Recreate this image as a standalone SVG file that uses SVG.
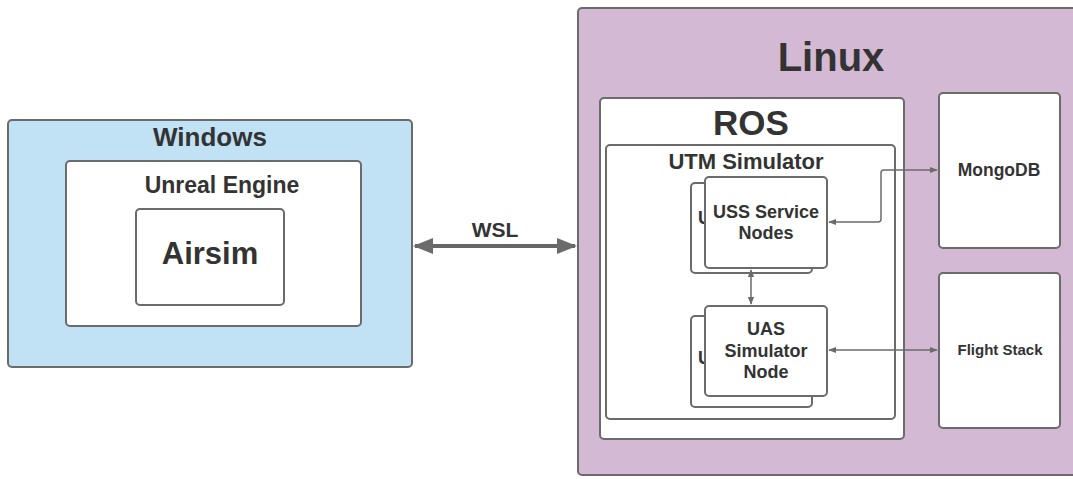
<svg xmlns="http://www.w3.org/2000/svg" width="1073" height="479" viewBox="0 0 1073 479">
<style>
.box{fill:#fff;stroke:#6b6b6b;stroke-width:2}
.t{font-family:"Liberation Sans",Arial,sans-serif;font-weight:bold;fill:#333;text-anchor:middle}
.c{fill:none;stroke:#6b6b6b;stroke-width:1.5}
</style>
<defs>
<marker id="a" viewBox="0 0 10 10" refX="9" refY="5" markerWidth="8" markerHeight="8" markerUnits="userSpaceOnUse" orient="auto-start-reverse"><path d="M0,1 L10,5 L0,9 Z" fill="#6b6b6b"/></marker>
<marker id="b" viewBox="0 0 10 10" refX="9" refY="5" markerWidth="5" markerHeight="5" orient="auto-start-reverse"><path d="M0,1 L10,5 L0,9 Z" fill="#6b6b6b"/></marker>
</defs>
<rect width="1073" height="479" fill="#fff"/>
<g id="windows">
<rect x="8" y="120" width="404" height="247" rx="4" fill="#c0e2f4" stroke="#6b6b6b" stroke-width="2"/>
<text class="t" x="210" y="146" font-size="26">Windows</text>
</g>
<g id="unreal">
<rect class="box" x="66" y="161" width="295" height="165" rx="4"/>
<text class="t" x="222" y="193" font-size="23">Unreal Engine</text>
</g>
<g id="airsim">
<rect class="box" x="136" y="209" width="148" height="96" rx="4"/>
<text class="t" x="210" y="264" font-size="31">Airsim</text>
</g>
<g id="linux">
<rect x="578" y="8" width="500" height="467" rx="4" fill="#d4b9d4" stroke="#6b6b6b" stroke-width="2"/>
<text class="t" x="831" y="71" font-size="40">Linux</text>
</g>
<g id="ros">
<rect class="box" x="600" y="98" width="304" height="341" rx="4"/>
<text class="t" x="751" y="135" font-size="35">ROS</text>
</g>
<g id="utm">
<rect class="box" x="606" y="145" width="289" height="274" rx="4"/>
<text class="t" x="746" y="169" font-size="22">UTM Simulator</text>
</g>
<g id="uss-back">
<rect class="box" x="691" y="183" width="121" height="90" rx="4"/>
<text class="t" x="698" y="224" font-size="18" text-anchor="start" style="text-anchor:start">U</text>
</g>
<g id="uss">
<rect class="box" x="705" y="177" width="122" height="91" rx="4"/>
<text class="t" x="766" y="218" font-size="18">USS Service</text>
<text class="t" x="766" y="239" font-size="18">Nodes</text>
</g>
<g id="uas-back">
<rect class="box" x="691" y="316" width="121" height="91" rx="4"/>
<text class="t" x="698" y="364" font-size="18" style="text-anchor:start">U</text>
</g>
<g id="uas">
<rect class="box" x="705" y="306" width="122" height="90" rx="4"/>
<text class="t" x="766" y="335" font-size="18">UAS</text>
<text class="t" x="766" y="357" font-size="18">Simulator</text>
<text class="t" x="766" y="378" font-size="18">Node</text>
</g>
<g id="mongodb">
<rect class="box" x="939" y="93" width="121" height="155" rx="4"/>
<text class="t" x="999" y="176" font-size="17.5">MongoDB</text>
</g>
<g id="flightstack">
<rect class="box" x="939" y="273" width="121" height="155" rx="4"/>
<text class="t" x="1000" y="355" font-size="15">Flight Stack</text>
</g>
<g id="connectors">
<line x1="415" y1="246" x2="575" y2="246" stroke="#666" stroke-width="4" marker-start="url(#b)" marker-end="url(#b)"/>
<text class="t" x="495" y="237" font-size="21">WSL</text>
<path class="c" d="M829,222 H878 Q881,222 881,219 V173 Q881,170 884,170 H937" marker-start="url(#a)" marker-end="url(#a)"/>
<line class="c" x1="751" y1="270" x2="751" y2="304" marker-start="url(#a)" marker-end="url(#a)"/>
<line class="c" x1="829" y1="350" x2="937" y2="350" marker-start="url(#a)" marker-end="url(#a)"/>
</g>
</svg>
